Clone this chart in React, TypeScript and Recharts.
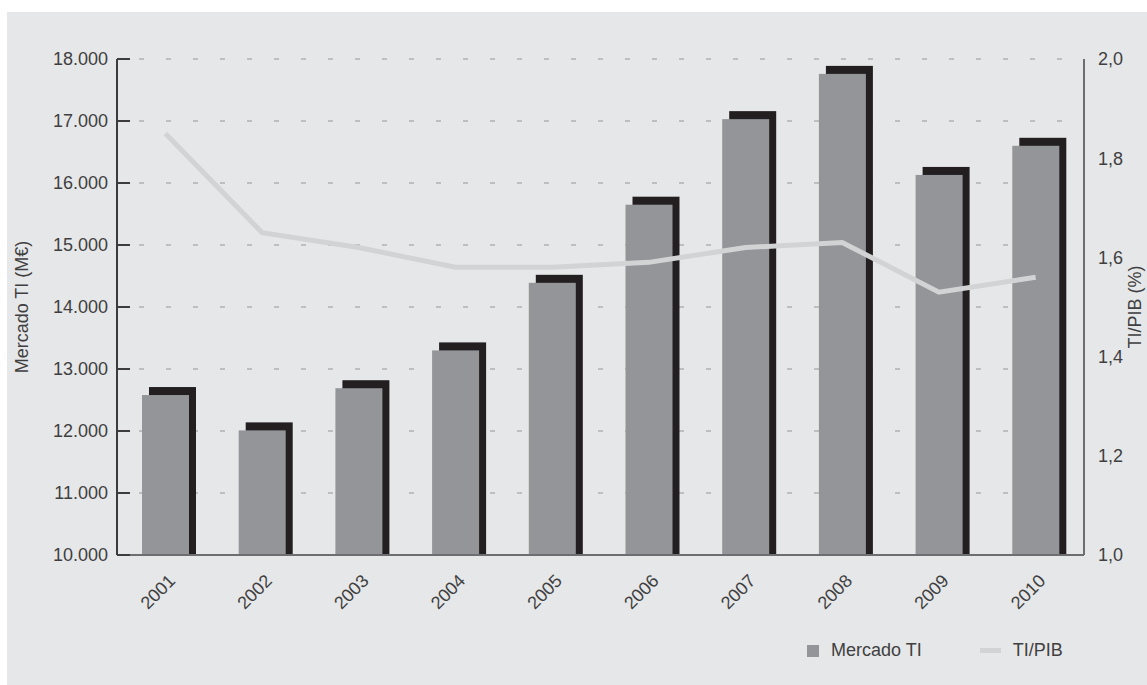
import { ComposedChart, Bar, Line, XAxis, YAxis, CartesianGrid, Legend } from "recharts";

const YEARS = ["2001", "2002", "2003", "2004", "2005", "2006", "2007", "2008", "2009", "2010"];
const MERCADO_TI = [12580, 12010, 12690, 13300, 14390, 15650, 17030, 17760, 16130, 16600];
const TI_PIB = [1.85, 1.65, 1.62, 1.58, 1.58, 1.59, 1.62, 1.63, 1.53, 1.56];
const LEFT_TICKS = [10000, 11000, 12000, 13000, 14000, 15000, 16000, 17000, 18000];
const RIGHT_TICKS = [1.0, 1.2, 1.4, 1.6, 1.8, 2.0];

const data = YEARS.map((year, i) => ({ year, mercado: MERCADO_TI[i], pib: TI_PIB[i] }));

const FONT = "'Liberation Sans', Arial, sans-serif";
const TEXT = "#3f3f41";
const BAR_GRAY = "#939598";
const SHADOW = "#231f20";
const LINE_GRAY = "#d1d3d4";

const fmtThousands = (v: number) => v.toLocaleString("de-DE");
const fmtComma = (v: number) => v.toFixed(1).replace(".", ",");

// gray bar with a black block offset up/right behind it
function ShadowBar(props: any) {
  const { x, y, width, height } = props;
  if (height == null || height <= 0) return null;
  return (
    <g>
      <rect x={x + 7} y={y - 8} width={width} height={height + 8} fill={SHADOW} />
      <rect x={x} y={y} width={width} height={height} fill={BAR_GRAY} />
    </g>
  );
}

function LeftTick(props: any) {
  const { x, y, payload } = props;
  return (
    <g>
      <line x1={x} x2={x + 13} y1={y} y2={y} stroke="#3c3c3e" strokeWidth={2} />
      <text x={x - 9} y={y} dy="0.35em" textAnchor="end" fill={TEXT} fontSize={18} fontFamily={FONT}>
        {fmtThousands(payload.value)}
      </text>
    </g>
  );
}

function RightTick(props: any) {
  const { x, y, payload } = props;
  return (
    <text x={x + 14} y={y} dy="0.35em" textAnchor="start" fill={TEXT} fontSize={18} fontFamily={FONT}>
      {fmtComma(payload.value)}
    </text>
  );
}

function YearTick(props: any) {
  const { x, y, payload } = props;
  return (
    <text
      transform={`translate(${x + 11},${y + 27}) rotate(-45)`}
      textAnchor="end"
      fill={TEXT}
      fontSize={18}
      fontFamily={FONT}
    >
      {payload.value}
    </text>
  );
}

function LegendContent(props: any) {
  const { payload } = props;
  return (
    <div style={{ display: "flex", alignItems: "center", paddingLeft: 800, paddingTop: 5, fontFamily: FONT, fontSize: 18, color: TEXT }}>
      {(payload || []).map((entry: any, i: number) => (
        <div key={i} style={{ display: "flex", alignItems: "center", marginLeft: i === 0 ? 0 : 58 }}>
          {entry.type === "line" ? (
            <span style={{ display: "inline-block", width: 21, height: 5, background: LINE_GRAY, marginRight: 12 }} />
          ) : (
            <span style={{ display: "inline-block", width: 12, height: 12, background: BAR_GRAY, marginRight: 12 }} />
          )}
          <span>{entry.value}</span>
        </div>
      ))}
    </div>
  );
}

export default function App() {
  return (
    <div style={{ position: "absolute", left: 0, top: 0, width: 1147, height: 685, background: "#ffffff", overflow: "hidden" }}>
      <div style={{ position: "absolute", left: 7, top: 12, width: 1140, height: 673, background: "#e6e7e8" }}>
        <ComposedChart width={1140} height={673} data={data} margin={{ top: 47, right: 0, bottom: 0, left: 0 }} style={{ fontFamily: FONT }}>
          <CartesianGrid
            vertical={false}
            yAxisId="left"
            stroke="#bcbec0"
            strokeWidth={2}
            strokeDasharray="0 22 5 0"
          />
          <XAxis
            dataKey="year"
            height={80}
            tickSize={0}
            tickMargin={0}
            tick={<YearTick />}
            axisLine={{ stroke: "#6d6e71", strokeWidth: 2 }}
            tickLine={false}
            interval={0}
          />
          <YAxis
            yAxisId="left"
            orientation="left"
            width={110}
            domain={[10000, 18000]}
            ticks={LEFT_TICKS}
            tickSize={0}
            tickMargin={0}
            tick={<LeftTick />}
            tickLine={false}
            axisLine={{ stroke: "#3c3c3e", strokeWidth: 2 }}
            label={(p: any) => {
              const vb = p.viewBox;
              const cx = vb.x + 15;
              const cy = vb.y + vb.height / 2;
              return (
                <text x={cx} y={cy} transform={`rotate(-90,${cx},${cy})`} textAnchor="middle" dominantBaseline="central" fill={TEXT} fontSize={18} fontFamily={FONT}>
                  Mercado TI (M€)
                </text>
              );
            }}
          />
          <YAxis
            yAxisId="right"
            orientation="right"
            width={63}
            domain={[1, 2]}
            ticks={RIGHT_TICKS}
            tickSize={0}
            tickMargin={0}
            tick={<RightTick />}
            tickLine={false}
            axisLine={{ stroke: "#6d6e71", strokeWidth: 2 }}
            label={(p: any) => {
              const vb = p.viewBox;
              const cx = vb.x + 51;
              const cy = vb.y + vb.height / 2;
              return (
                <text x={cx} y={cy} transform={`rotate(-90,${cx},${cy})`} textAnchor="middle" dominantBaseline="central" fill={TEXT} fontSize={18} fontFamily={FONT}>
                  TI/PIB (%)
                </text>
              );
            }}
          />
          <Legend verticalAlign="bottom" height={50} content={<LegendContent />} />
          <Bar
            yAxisId="left"
            dataKey="mercado"
            name="Mercado TI"
            barSize={47}
            fill={BAR_GRAY}
            shape={<ShadowBar />}
            isAnimationActive={false}
          />
          <Line
            yAxisId="right"
            dataKey="pib"
            name="TI/PIB"
            type="linear"
            stroke={LINE_GRAY}
            strokeWidth={5}
            dot={false}
            activeDot={false}
            isAnimationActive={false}
          />
        </ComposedChart>
      </div>
    </div>
  );
}
